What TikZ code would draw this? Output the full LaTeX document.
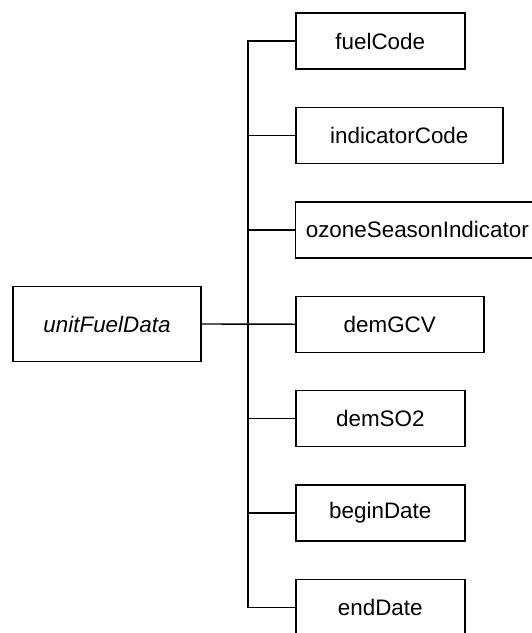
\documentclass[tikz,border=0pt]{standalone}
\usepackage{fontspec}
\setmainfont{Liberation Sans}
\usetikzlibrary{positioning}

\begin{document}
\begin{tikzpicture}[x = 1pt, y = -1pt,
	field/.style = {draw, line width=1.4pt, minimum height=56pt, minimum width=169pt, inner sep=0pt, font=\fontsize{22.4}{26}\selectfont},
	branch/.style = {line width=1.4pt}]
	\useasboundingbox (0,0) rectangle (532,633);
	\node[field, minimum width=188pt, minimum height=75pt, font=\fontsize{22.4}{26}\selectfont\itshape] (unitFuelData) at (107,324) {unitFuelData};
	\node[field] (fuelCode) at (380.3,41) {fuelCode};
	\node[field, minimum width=207pt] (indicatorCode) at (399.3,135.4) {indicatorCode};
	\node[field, minimum width=244pt] (ozoneSeasonIndicator) at (417.3,229.8) {ozoneSeasonIndicator};
	\node[field, minimum width=188pt] (demGCV) at (389.8,324.2) {demGCV};
	\node[field] (demSO2) at (380.3,418.6) {demSO2};
	\node[field] (beginDate) at (380.3,513) {beginDate};
	\node[field] (endDate) at (380.3,607.4) {endDate};
	\coordinate (trunk) at (248,0);
	\draw[branch] (fuelCode.west) -- (fuelCode.west -| trunk) -- (endDate.west -| trunk) -- (endDate.west);
	\draw[branch] (indicatorCode.west) -- (indicatorCode.west -| trunk);
	\draw[branch] (ozoneSeasonIndicator.west) -- (ozoneSeasonIndicator.west -| trunk);
	\draw[branch] (unitFuelData.east) -- (demGCV.west);
	\draw[branch] (demSO2.west) -- (demSO2.west -| trunk);
	\draw[branch] (beginDate.west) -- (beginDate.west -| trunk);
\end{tikzpicture}
\end{document}
